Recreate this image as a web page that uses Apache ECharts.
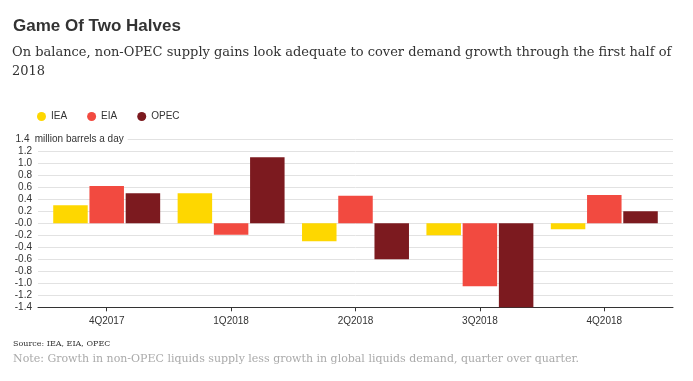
<!DOCTYPE html>
<html>
<head>
<meta charset="utf-8">
<script src="https://cdn.jsdelivr.net/npm/echarts@6/dist/echarts.min.js"></script>
<style>html,body{margin:0;padding:0;background:#fff}#c{width:693px;height:381px}</style>
</head>
<body>
<div id="c"></div>
<script>
var categories = ['4Q2017', '1Q2018', '2Q2018', '3Q2018', '4Q2018'];
var iea = [0.3, 0.5, -0.3, -0.2, -0.1];
var eia = [0.62, -0.19, 0.46, -1.05, 0.47];
var opec = [0.5, 1.1, -0.6, -1.45, 0.2];
var seriesNames = ['IEA', 'EIA', 'OPEC'];
var yMin = -1.4, yMax = 1.4, yStep = 0.2;
var yUnit = ' million barrels a day';

var chart = echarts.init(document.getElementById('c'), null, {renderer: 'canvas'});
var sans = 'Arial, "Liberation Sans", Helvetica, sans-serif';
var serif = '"DejaVu Serif", Georgia, serif';
var colors = ['#FED700', '#F24A40', '#7C1A1F'];

function yLabel(v) {
  var t = Math.abs(v) < 1e-9 ? '-0.0' : v.toFixed(1);
  if (Math.abs(v - yMax) < 1e-9) return '{v|' + t + '}{u|' + yUnit + '}';
  return '{v|' + t + '}';
}

var option = {
  animation: false,
  color: colors,
  title: [
    {text: 'Game Of Two Halves', left: 13, top: 18, padding: 0,
     textStyle: {fontFamily: sans, fontSize: 17, fontWeight: 'bold', color: '#333'}},
    {text: 'On balance, non-OPEC supply gains look adequate to cover demand growth through the first half of\n2018', left: 12, top: 43.5, padding: 0,
     textStyle: {fontFamily: serif, fontSize: 13, fontWeight: 'normal', color: '#333', lineHeight: 19}},
    {text: 'Source: IEA, EIA, OPEC', left: 13, top: 339.5, padding: 0,
     textStyle: {fontFamily: serif, fontSize: 8, fontWeight: 'normal', color: '#333'}},
    {text: 'Note: Growth in non-OPEC liquids supply less growth in global liquids demand, quarter over quarter.', left: 13, top: 353.5, padding: 0,
     textStyle: {fontFamily: serif, fontSize: 11, fontWeight: 'normal', color: '#aaa'}}
  ],
  legend: {
    data: seriesNames, left: 37, top: 111.5, padding: 0, icon: 'circle', itemWidth: 9, itemHeight: 9, itemGap: 20,
    textStyle: {fontFamily: sans, fontSize: 10, color: '#333'}
  },
  grid: [
    {left: 38, right: 20, top: 139.3, bottom: 73.7},
    {left: 44.5, right: 26.5, top: 139.3, bottom: 73.7}
  ],
  xAxis: [
    {type: 'category', gridIndex: 0, data: categories,
     axisLine: {show: true, onZero: false, lineStyle: {color: '#333', width: 1}},
     axisTick: {show: false}, axisLabel: {show: false}, splitLine: {show: false}},
    {type: 'category', gridIndex: 1, data: categories, axisLine: {show: false, onZero: false},
     axisTick: {show: true, length: 4, alignWithLabel: true, lineStyle: {color: '#333'}},
     axisLabel: {fontFamily: sans, fontSize: 10, color: '#333', margin: 9}}
  ],
  yAxis: [
    {type: 'value', gridIndex: 0, min: yMin, max: yMax, interval: yStep,
     axisLine: {show: false}, axisTick: {show: false},
     axisLabel: {formatter: yLabel, align: 'left', margin: 25, fontFamily: sans, fontSize: 10, color: '#333',
       rich: {
         v: {width: 19, align: 'right', fontFamily: sans, fontSize: 10, color: '#333'},
         u: {fontFamily: sans, fontSize: 10, color: '#333', backgroundColor: '#fff', padding: [1, 4, 1, 0]}
       }},
     splitLine: {lineStyle: {color: '#e2e2e2', width: 1}}},
    {type: 'value', gridIndex: 1, min: yMin, max: yMax, interval: yStep, show: false, splitLine: {show: false}}
  ],
  series: [
    {name: 'IEA', type: 'bar', xAxisIndex: 1, yAxisIndex: 1, data: iea, barWidth: 34.5, barGap: '5%'},
    {name: 'EIA', type: 'bar', xAxisIndex: 1, yAxisIndex: 1, data: eia, barWidth: 34.5, barGap: '5%'},
    {name: 'OPEC', type: 'bar', xAxisIndex: 1, yAxisIndex: 1, data: opec, barWidth: 34.5, barGap: '5%'}
  ]
};
chart.setOption(option);
</script>
</body>
</html>
